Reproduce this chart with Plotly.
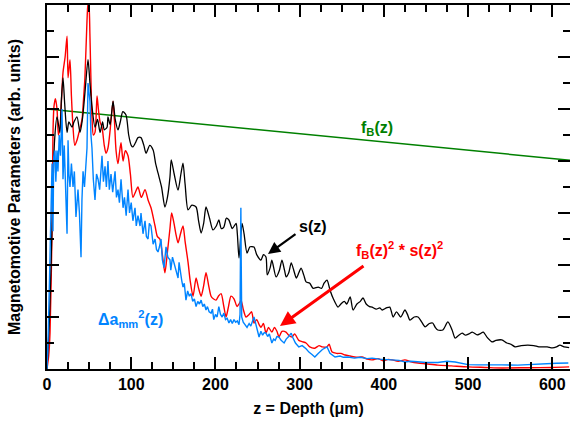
import plotly.graph_objects as go

# ---------------- data ----------------
z_fb = [0, 621]
fb_vals = [10.0, 8.03]

z_s = [0, 3, 6, 9, 11.9, 15.4, 17, 19, 21, 23.8, 26, 29.7, 32, 35.6, 39.2, 42, 45, 48.7, 51, 53.4, 57,
       60, 63, 66, 68, 71.3, 72.4, 75, 78.4, 81, 84.3, 87, 90, 93.8, 97, 100, 102, 105, 108, 111.6, 115,
       117.6, 122, 126, 129, 131.8, 136, 140, 143, 146, 147.5, 151, 155.6, 159, 161.5, 164, 167.5, 172,
       177, 180, 183, 186, 188.8, 193, 197, 201, 204, 207, 210, 213, 216, 220, 224.5, 226, 228, 231.6,
       234, 237.5, 241, 245.8, 249, 254, 257, 260, 261.5, 265, 267, 272, 276, 279, 282, 284, 287, 290,
       293, 296, 299, 301.7, 305, 307.6, 312, 316, 322, 326, 329, 332.5, 336, 340, 345.6, 349, 353, 356,
       360, 363.4, 368, 372, 375.3, 379, 383, 386, 391, 395, 398, 403, 407, 411, 415, 420, 425, 428, 431,
       436, 440.6, 445, 449, 454, 458, 461, 464, 470, 476, 481, 484.6, 489, 493, 497, 501, 505, 510.7,
       514, 518, 523, 528.5, 533, 540, 546, 551, 556, 563, 571, 578, 584, 588, 594, 600, 605, 609, 614, 620]
s_vals = [0, 2.0, 5.5, 8.8, 9.7, 9.1, 10.3, 11.2, 10.2, 9.1, 9.5, 9.3, 9.5, 9.7, 9.1, 9.6, 10.6, 11.9, 11.0, 10.1, 9.3,
          9.6, 9.1, 9.5, 9.2, 9.3, 9.7, 9.4, 10.3, 9.6, 9.2, 9.5, 9.9, 9.77, 9.0, 8.6, 8.54, 8.7, 8.9, 8.9, 8.6,
          8.3, 8.6, 8.42, 7.9, 7.54, 7.0, 6.23, 6.6, 7.38, 8.04, 7.5, 6.88, 7.5, 7.92, 7.1, 6.12, 6.3,
          6.23, 5.7, 5.23, 5.6, 6.23, 5.8, 5.35, 5.5, 5.73, 5.4, 5.46, 5.8, 5.73, 5.4, 5.6, 5.2, 4.27, 5.6,
          5.2, 4.46, 4.7, 4.69, 4.4, 4.19, 4.4, 4.31, 3.62, 3.9, 4.19, 3.54, 3.8, 4.19, 3.8, 3.54, 3.7, 4.08,
          3.8, 3.5, 3.7, 3.88, 3.6, 3.35, 3.3, 3.1, 3.15, 3.1, 3.3, 3.42, 3.04, 2.7, 2.38, 2.5, 2.6, 2.5,
          2.77, 2.27, 2.5, 2.6, 2.73, 2.5, 2.4, 2.38, 2.3, 2.35, 2.27, 2.35, 2.38, 2.0, 2.2, 2.0, 2.27, 2.1, 1.88,
          2.0, 2.0, 1.8, 1.62, 1.75, 1.77, 1.6, 1.5, 1.5, 1.81, 1.5, 1.19, 1.3, 1.38, 1.3, 1.35, 1.42, 1.31,
          1.35, 1.42, 1.2, 1.04, 1.1, 1.12, 1.0, 0.95, 0.85, 0.9, 0.92, 0.9, 0.85, 0.85, 0.85, 0.81, 0.85, 0.92, 0.85, 0.82]

z_r = [0, 2, 3.6, 5.9, 7.1, 8.3, 10, 11.9, 13.5, 15.4, 17, 19, 21.5, 23.8, 25, 27.3, 29, 30.9, 33, 35.6,
       38, 41.6, 43, 45, 47.5, 48.7, 50, 51, 53.4, 55, 57, 59.4, 61, 63, 65.3, 68, 70, 72.4, 75, 78.4, 80,
       82, 84.3, 86, 87.9, 90.3, 93, 96.2, 99, 102, 105, 108, 112, 116.4, 120, 123.5, 128.3, 131, 134, 137,
       140, 143, 146, 148, 150.8, 153, 155.6, 158.5, 161.5, 164, 167.5, 170, 173.4, 177, 180, 183, 186,
       188.8, 192, 194.8, 197.5, 200.7, 203.5, 206.7, 210, 212.6, 215.5, 218.5, 222, 225.7, 228, 230.4,
       233, 236.3, 240, 243, 245.8, 249, 252, 254, 257, 260, 263, 267, 270, 273, 275.5, 279, 283.8, 287,
       291, 294, 299, 303, 307.6, 312, 318, 323, 327, 332.5, 335, 338.5, 344, 349, 354, 360, 367, 374, 380,
       386, 393, 399, 405, 410, 417, 425, 432, 440.6, 450, 464, 480, 500, 520, 540, 570, 600, 620]
r_vals = [0, 0.5, 1.4, 5.2, 9.1, 10.1, 10.4, 10.0, 9.0, 9.3, 10.2, 11.4, 12.0, 12.8, 11.2, 11.9, 10.5, 9.3, 8.6, 8.8,
          9.1, 9.6, 10.2, 11.2, 13.4, 14.1, 13.9, 12.8, 9.7, 9.0, 9.1, 10.5, 10.0, 9.5, 9.3, 8.6, 8.3, 8.5, 9.2, 10.3, 9.6,
          8.4, 7.9, 8.3, 8.7, 8.0, 8.4, 8.2, 7.5, 6.6, 6.8, 7.0, 6.6, 6.9, 6.5, 6.2, 5.5, 5.1, 5.0, 4.4,
          3.7, 4.5, 5.4, 6.0, 5.6, 5.2, 4.85, 5.2, 5.5, 4.9, 4.1, 3.4, 2.8, 3.5, 3.1, 2.8, 3.2,
          3.7, 3.2, 2.8, 2.7, 2.65, 2.8, 2.9, 2.4, 2.0, 2.4, 2.8, 2.7, 2.4, 2.5, 2.65,
          2.3, 2.0, 2.1, 2.2, 1.77, 1.9, 1.7, 1.6, 1.75, 1.38, 1.6, 1.42, 1.6, 1.45, 1.23, 1.45, 1.42, 1.3,
          1.23, 1.35, 1.1, 1.05, 1.0, 0.85, 0.8, 0.9, 0.85, 0.85, 0.95, 0.65, 0.6, 0.6, 0.54, 0.5, 0.45, 0.46, 0.38,
          0.35, 0.4, 0.32, 0.37, 0.35, 0.3, 0.35, 0.28, 0.23, 0.2, 0.15, 0.12, 0.08, 0.06, 0.04, 0.05, 0.06, 0.08]

z_a = [0, 1.2, 3, 5, 6, 7.1, 8, 9.5, 10.5, 11.9, 13, 14.5, 16, 17.8, 19, 20.5, 22, 23.8, 25, 26, 27.3, 29,
       30.9, 32.5, 34.4, 36, 36.8, 38.5, 40.4, 41.5, 42.8, 44.5, 46, 47.5, 48.7, 50, 51, 52.2, 53.4, 55, 57,
       58.8, 60.6, 62.5, 64, 65.3, 67, 68.9, 70.5, 72.4, 74, 76, 78, 80.8, 82.5, 84.3, 86, 87.9, 90.3, 92,
       94, 96.2, 98, 100, 102, 104.5, 106, 108, 110.5, 111.6, 114, 116.4, 118, 120, 121.5, 123.5, 126,
       128.3, 130, 131.8, 133.5, 135.4, 137, 139, 141.3, 143.5, 146, 147, 149, 150.8, 153, 155.6, 156.8,
       158.5, 160, 161.5, 163, 165, 167, 169, 171, 173, 175, 177, 179, 181, 183, 185, 186.8, 188.8, 190.5,
       192.5, 194.8, 196.5, 198, 200, 202, 204, 206, 208, 210, 212, 214, 216, 218, 220, 222, 224, 226, 228,
       229.2, 229.8, 230.2, 230.6, 231.2, 233, 235, 237.5, 240, 242, 245.8, 248, 250, 251.8, 254, 256, 258,
       260, 262, 264, 267, 269, 271, 273, 275.5, 278, 281.5, 284, 287, 290, 292, 295, 299, 303, 307.6, 311,
       315, 318, 322, 327, 332.5, 336, 342, 348, 352, 357.5, 365, 372, 380, 386, 395, 403, 410, 418, 425,
       432, 440, 450, 464, 475, 484.6, 492, 500, 512, 524, 540, 559, 575, 590, 605, 619]
a_vals = [0, 1.0, 3.5, 6.8, 7.9, 5.3, 8.15, 8.4, 7.2, 8.4, 7.6, 9.0, 8.2, 10.0, 7.3, 8.6, 7.0, 5.2, 8.8, 7.5, 7.0, 7.9,
          7.0, 7.6, 5.85, 6.8, 6.9, 6.0, 4.3, 6.5, 7.6, 7.0, 8.0, 8.5, 11.0, 10.5, 10.3, 9.0, 8.5, 7.3, 6.5,
          7.5, 7.3, 6.9, 7.8, 8.2, 7.2, 7.8, 7.0, 8.0, 6.9, 7.5, 6.8, 7.6, 6.6, 6.9, 6.4, 7.3, 6.2, 6.6,
          5.9, 6.9, 6.0, 6.4, 5.7, 6.2, 5.5, 5.9, 5.5, 6.0, 5.2, 5.7, 5.1, 5.0, 5.6, 5.5, 4.8,
          5.0, 4.6, 4.5, 4.7, 5.0, 4.2, 3.9, 4.7, 4.3, 4.2, 3.8, 4.3, 4.1, 3.8, 3.5, 4.1,
          3.6, 3.4, 3.15, 3.3, 2.65, 3.0, 2.8, 2.9, 2.6, 2.7, 2.4, 2.6, 2.5, 2.65, 2.4, 2.5, 2.27, 2.4,
          2.2, 2.15, 2.3, 1.9, 2.1, 2.0, 2.4, 2.1, 2.0, 2.15, 1.9, 1.95, 1.77, 1.9, 1.75, 1.9, 1.8, 1.85, 1.7,
          2.1, 4.8, 6.2, 4.2, 2.0, 1.8, 1.7, 1.6, 1.75, 1.65, 2.0, 1.7, 1.5, 1.23, 1.45, 1.3, 1.4,
          1.38, 1.25, 1.35, 1.0, 1.15, 1.1, 1.25, 1.23, 1.1, 1.0, 1.15, 1.25, 1.38, 1.2, 1.0, 0.85, 0.9, 0.78, 0.65,
          0.55, 0.46, 0.6, 0.75, 0.85, 0.6, 0.46, 0.5, 0.45, 0.46, 0.42, 0.45, 0.4, 0.42, 0.38, 0.37, 0.35, 0.33, 0.27,
          0.3, 0.28, 0.25, 0.25, 0.3, 0.27, 0.22, 0.17, 0.16, 0.15, 0.16, 0.15, 0.18, 0.2, 0.22, 0.23]

x_tick_vals = [0, 100, 200, 300, 400, 500, 600]
x_tick_text = ["0", "100", "200", "300", "400", "500", "600"]

# ---------------- figure ----------------
GREEN = "rgb(0,128,0)"
RED = "rgb(255,0,0)"
BLUE = "rgb(0,132,255)"
FONT = "Liberation Sans, Arial, sans-serif"

fig = go.Figure()
fig.add_trace(go.Scatter(x=z_fb, y=fb_vals, mode="lines", line=dict(color=GREEN, width=1.5)))
fig.add_trace(go.Scatter(x=z_r, y=r_vals, mode="lines", line=dict(color=RED, width=1.4, shape="spline", smoothing=0.7)))
fig.add_trace(go.Scatter(x=z_s, y=s_vals, mode="lines", line=dict(color="black", width=1.3, shape="spline", smoothing=0.7)))
fig.add_trace(go.Scatter(x=z_a, y=a_vals, mode="lines", line=dict(color=BLUE, width=1.4)))

L, T, B = 47, 5, 369
W_PLOT = 570 - L
H_PLOT = B - T


def px(xp):
    return (xp - L) / W_PLOT


def py(yp):
    return (B - yp) / H_PLOT


tfont = dict(family=FONT, size=16, color="black", weight="bold")

annos = [
    dict(x=px(377), y=py(128), text="f<sub>B</sub>(z)", font=dict(family=FONT, size=16, color=GREEN, weight="bold")),
    dict(x=px(313), y=py(226), text="s(z)", font=dict(family=FONT, size=16, color="black", weight="bold")),
    dict(x=px(399), y=py(250), text="f<sub>B</sub>(z)<sup>2</sup> * s(z)<sup>2</sup>",
         font=dict(family=FONT, size=16, color=RED, weight="bold")),
    dict(x=px(130), y=py(319), text="Δa<sub>mm</sub><sup>2</sup>(z)", font=dict(family=FONT, size=16, color=BLUE, weight="bold")),
]
for a in annos:
    fig.add_annotation(xref="paper", yref="paper", showarrow=False, xanchor="center", yanchor="middle", **a)

# arrows
fig.add_annotation(xref="paper", yref="paper", x=px(268), y=py(254), ax=29, ay=-21, text="",
                   showarrow=True, arrowhead=2, arrowsize=1.1, arrowwidth=2.2, arrowcolor="black",
                   standoff=0, startstandoff=0)
fig.add_annotation(xref="paper", yref="paper", x=px(280), y=py(326), ax=85, ay=-61, text="",
                   showarrow=True, arrowhead=2, arrowsize=1.0, arrowwidth=3, arrowcolor=RED,
                   standoff=0, startstandoff=0)

fig.update_layout(
    width=570, height=423,
    margin=dict(l=L, r=0, t=T, b=423 - B, autoexpand=False),
    paper_bgcolor="white", plot_bgcolor="white",
    showlegend=False,
    font=dict(family=FONT, size=16, color="black"),
    xaxis=dict(range=[0, 621], tickvals=x_tick_vals, ticktext=x_tick_text,
               ticks="inside", ticklen=12, tickwidth=2, tickcolor="black",
               showline=True, linewidth=2, linecolor="black", mirror="ticks",
               showgrid=False, zeroline=False, tickfont=tfont,
               minor=dict(dtick=25, tick0=0, ticks="inside", ticklen=7, tickwidth=1.5, tickcolor="black", showgrid=False),
               title=dict(text="z = Depth (μm)", font=tfont, standoff=11)),
    yaxis=dict(range=[0, 14], dtick=2, tick0=0, showticklabels=False,
               ticks="inside", ticklen=12, tickwidth=2, tickcolor="black",
               showline=True, linewidth=2, linecolor="black", mirror="ticks",
               showgrid=False, zeroline=False,
               minor=dict(dtick=1, tick0=0, ticks="inside", ticklen=7, tickwidth=1.5, tickcolor="black", showgrid=False),
               title=dict(text="Magnetomotive Parameters (arb. units)", font=tfont, standoff=20)),
)

fig.write_html("out.html", config={"displayModeBar": False},
               post_script="document.body.style.margin='0px';")
